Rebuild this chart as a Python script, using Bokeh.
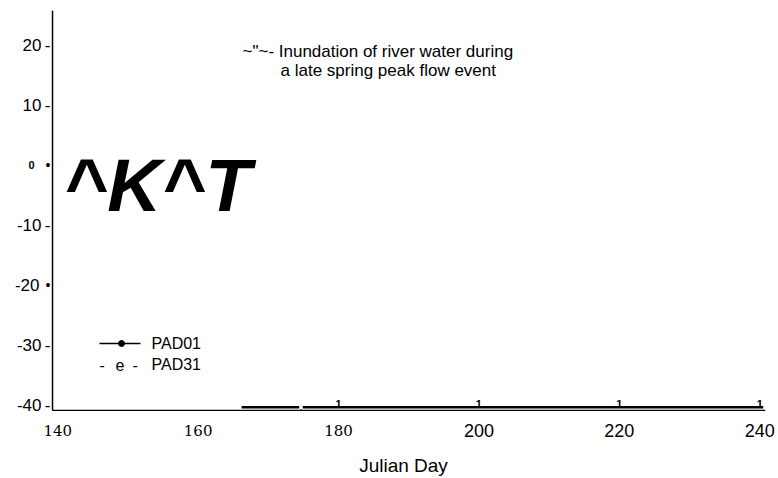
from bokeh.plotting import figure
from bokeh.models import Range1d, Label, ColumnDataSource
from bokeh.core.properties import value
from bokeh.embed import file_html
from bokeh.resources import INLINE

W, H = 778, 478

# ---- data -------------------------------------------------------------
x_ticks_serif = [140, 160, 180]
x_ticks_sans = [200, 220, 240]
x_labels_serif = ["140", "160", "180"]
x_labels_sans = ["200", "220", "240"]

y_ticks = [20, 10, 0, -10, -20, -30, -40]
y_tick_labels = ["20", "10", "0", "-10", "-20", "-30", "-40"]
y_tick_marks = ["-", "-", "\u2022", "-", "\u2022", "-", "-"]

# PAD01 record along the bottom of the plot (Julian day, value)
pad01_days = [166.2, 174.4, float("nan"), 174.9, 240.5]
pad01_vals = [-40.3, -40.3, float("nan"), -40.3, -40.3]
pad01_mark_days = [180, 200, 220, 240]
pad01_mark_vals = [-40.3, -40.3, -40.3, -40.3]

x_axis_span = [139.26, 240.8]
y_axis_span = [-40.83, 25.8]
x_label_row = -44.17

annotation = ['~"~- Inundation of river water during',
              "a late spring peak flow event"]

# ---- figure -----------------------------------------------------------
p = figure(width=W, height=H, output_backend="svg", toolbar_location=None,
           x_range=Range1d(131.85, 242.68), y_range=Range1d(-52.17, 27.5),
           x_axis_type=None, y_axis_type=None, min_border=0)
p.grid.visible = False
p.outline_line_color = None
p.background_fill_color = "white"
p.border_fill_color = "white"

SANS = "Liberation Sans"
SERIF = "DejaVu Serif"

def screen_label(text, x, top, size, font=SANS, align="left",
                 baseline="middle", style="normal"):
    p.add_layout(Label(x=x, y=H - top, x_units="screen", y_units="screen",
                       text=text, text_font=font, text_font_size=f"{size}px",
                       text_align=align, text_baseline=baseline,
                       text_font_style=style, text_color="black"))

# axes lines
p.line([x_axis_span[0], x_axis_span[0]], y_axis_span, line_color="black", line_width=1.5)
p.line(x_axis_span, [y_axis_span[0], y_axis_span[0]], line_color="black", line_width=1.3)

# x tick labels
serif_src = ColumnDataSource(dict(x=x_ticks_serif, y=[x_label_row] * 3, t=x_labels_serif))
sans_src = ColumnDataSource(dict(x=x_ticks_sans, y=[x_label_row] * 3, t=x_labels_sans))
p.text("x", "y", text="t", source=serif_src, text_font=value(SERIF),
       text_font_size="15px", text_align="center", text_baseline="middle",
       text_color="black")
p.text("x", "y", text="t", source=sans_src, text_font=value(SANS),
       text_font_size="18px", text_align="center", text_baseline="middle",
       text_color="black")

# y tick labels: number followed by its tick glyph
for v, t, m in zip(y_ticks, y_tick_labels, y_tick_marks):
    zero = v == 0
    num_right = 34 if zero else (39 if m == "\u2022" else 41)
    p.add_layout(Label(x=num_right, y=v, x_units="screen", y_units="data", text=t,
                       text_font=SANS, text_font_size="11px" if zero else "17px",
                       text_font_style="bold" if zero else "normal",
                       text_align="right", text_baseline="middle", text_color="black"))
    p.add_layout(Label(x=50, y=v, x_units="screen", y_units="data", text=m,
                       text_font=SANS, text_font_size="14px" if m == "\u2022" else "17px",
                       text_align="right", text_baseline="middle", text_color="black"))

# PAD01 series
p.line(pad01_days, pad01_vals, line_color="black", line_width=2.5)
for d, v in zip(pad01_mark_days, pad01_mark_vals):
    p.add_layout(Label(x=d, y=v, x_units="data", y_units="data", text="1",
                       text_font=SANS, text_font_size="11px", text_font_style="bold",
                       text_align="center", text_baseline="middle",
                       text_color="black", y_offset=3))
p.add_layout(Label(x=174.65, y=-40.3, text=",", text_font=SANS, text_font_size="9px",
                   text_align="center", text_baseline="middle", text_color="black"))

# axis title
screen_label("Julian Day", 403, 465, 19, align="center")

# large heading inside the plot
screen_label("^K^T", 63, 184, 75, style="bold italic")

# event annotation
screen_label(annotation[0], 242, 51, 17)
screen_label(annotation[1], 280, 70, 17)

# legend
p.line([145.95, 151.79], [-29.67, -29.67], line_color="black", line_width=1.5)
p.scatter([149.09], [-29.67], size=6, color="black")
screen_label("PAD01", 151, 343, 16)
screen_label("-", 99, 364, 16)
screen_label("e", 115, 364, 16)
screen_label("-", 132, 364, 16)
screen_label("PAD31", 151, 364, 16)

open("out.html", "w").write(file_html(p, INLINE))
